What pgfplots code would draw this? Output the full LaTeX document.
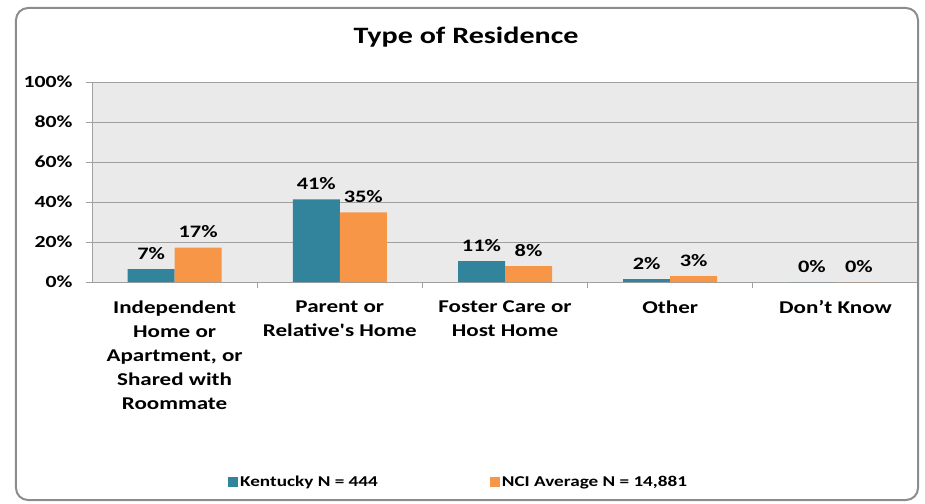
\documentclass[border=0pt]{standalone}
\usepackage{fontspec}
\setmainfont{Carlito}[FakeStretch=1.28, Ligatures=TeXOff]
\usepackage{pgfplots}
\pgfplotsset{compat=1.18}
\usepackage{pgfplotstable}
\definecolor{kyblue}{HTML}{31849B}
\definecolor{nciorange}{HTML}{F79646}
\definecolor{plotbg}{HTML}{EAEAEA}
\definecolor{gridc}{HTML}{A0A0A0}
\definecolor{borderc}{HTML}{8C8C8C}
\pgfplotsset{sqlegend/.style={legend image code/.code={\fill[##1] (0pt,-5pt) rectangle (10pt,5pt);}}}
\pgfplotstableread{
x ky kyl nci ncil
0 6.5 7 17.2 17
1 41.3 41 34.8 35
2 10.5 11 8 8
3 1.5 2 3 3
4 0 0 0 0
}\restable
\begin{document}
\begin{tikzpicture}
\begin{axis}[
  name=ax, at={(0,0)}, anchor=south west,
  width=826pt, height=200pt, scale only axis,
  xmin=-0.5, xmax=4.5, ymin=0, ymax=100,
  ybar=0pt, bar width=47pt,
  axis background/.style={fill=plotbg},
  ytick={0,20,...,100},
  /pgf/number format/assume math mode=true,
  yticklabel={\pgfmathprintnumber{\tick}\%},
  ymajorgrids, grid style={gridc, line width=0.8pt},
  axis line style={gridc, line width=0.8pt},
  xtick={0,...,4},
  xticklabels={{Independent\\Home or\\Apartment, or\\Shared with\\Roommate},{Parent or\\Relative's Home},{Foster Care or\\Host Home},{Other},{Don’t Know}},
  major x tick style={draw=none},
  minor xtick={0.5,1.5,2.5,3.5},
  tick align=outside, tick pos=left,
  major tick length=6pt, minor tick length=6pt,
  y tick style={gridc, line width=0.8pt},
  minor tick style={gridc, line width=0.8pt},
  yticklabel style={font=\fontsize{17}{20}\selectfont\bfseries, xshift=-10pt},
  xticklabel style={font=\fontsize{18}{24}\selectfont\bfseries, align=center, yshift=-9pt},
  point meta=explicit symbolic,
  nodes near coords={\pgfplotspointmeta\%},
  every node near coord/.append style={font=\fontsize{17.5}{20}\selectfont\bfseries, text=black, yshift=6pt},
  legend style={at={(0.161,-1.0)}, anchor=west, draw=none, fill=none,
    legend columns=2, font=\fontsize{15}{18}\selectfont\bfseries,
    /tikz/every even column/.append style={column sep=110pt}},
]
\addplot[fill=kyblue, draw=none, sqlegend]
  table[x=x, y=ky, meta=kyl] {\restable};
\addlegendentry{Kentucky N = 444}
\addplot[fill=nciorange, draw=none, sqlegend]
  table[x=x, y=nci, meta=ncil] {\restable};
\addlegendentry{NCI Average N = 14,881}
\end{axis}
\node[font=\fontsize{23.5}{28}\selectfont\bfseries] at ([shift={(374pt,245pt)}]ax.south west) {Type of Residence};
\draw[borderc, line width=2pt, rounded corners=12pt] ([shift={(-76pt,-218pt)}]ax.south west) rectangle ([shift={(826pt,274pt)}]ax.south west);
\pgfresetboundingbox
\useasboundingbox ([shift={(-92pt,-221pt)}]ax.south west) rectangle ([shift={(833pt,282pt)}]ax.south west);
\end{tikzpicture}
\end{document}
